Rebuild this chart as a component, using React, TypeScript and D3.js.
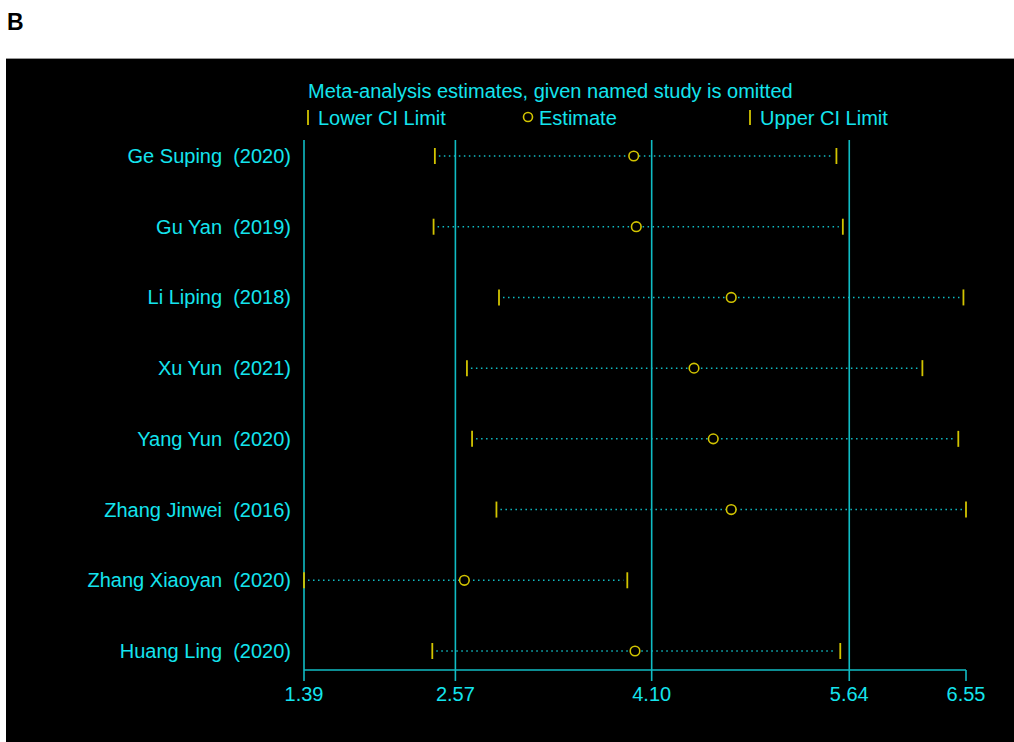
import React from "react";
import * as d3 from "d3";

const studies = [
  "Ge Suping  (2020)",
  "Gu Yan  (2019)",
  "Li Liping  (2018)",
  "Xu Yun  (2021)",
  "Yang Yun  (2020)",
  "Zhang Jinwei  (2016)",
  "Zhang Xiaoyan  (2020)",
  "Huang Ling  (2020)",
];
const lowerCI = [2.41, 2.40, 2.91, 2.66, 2.70, 2.89, 1.39, 2.39];
const estimate = [3.96, 3.98, 4.72, 4.43, 4.58, 4.72, 2.64, 3.97];
const upperCI = [5.54, 5.59, 6.53, 6.21, 6.49, 6.55, 3.91, 5.57];
const tickValues = [1.39, 2.57, 4.1, 5.64, 6.55];
const tickLabels = ["1.39", "2.57", "4.10", "5.64", "6.55"];
const gridValues = [1.39, 2.57, 4.1, 5.64];

const W = 1014;
const H = 742;
const CYAN_TEXT = "#14e4ee";
const CYAN_LINE = "#10bcc4";
const YELLOW = "#d2c400";
const FONT = "'Liberation Sans', Arial, sans-serif";
const FS = 20;

export default function App() {
  const x = d3.scaleLinear().domain([1.39, 6.55]).range([304, 966]);
  const y = d3.scalePoint<string>().domain(studies).range([156, 651]);
  const axisY = 670;
  const gridTop = 140;

  return (
    <svg
      width={W}
      height={H}
      style={{ position: "absolute", left: 0, top: 0, display: "block" }}
      fontFamily={FONT}
    >
      <rect x={0} y={0} width={W} height={H} fill="#ffffff" />
      <text x={7} y={30} fontSize={23} fontWeight="bold" fill="#000">
        B
      </text>
      <rect x={6} y={58} width={W - 6} height={H - 58} fill="#000" />
      <line x1={6} x2={W} y1={58.5} y2={58.5} stroke="#999" strokeWidth={1} />

      {/* title & legend */}
      <text x={308} y={98} fontSize={FS} fill={CYAN_TEXT}>
        Meta-analysis estimates, given named study is omitted
      </text>
      <line x1={308} x2={308} y1={110} y2={125} stroke={YELLOW} strokeWidth={1.8} />
      <text x={318} y={124.5} fontSize={FS} fill={CYAN_TEXT}>
        Lower CI Limit
      </text>
      <circle cx={528} cy={117} r={4.5} fill="none" stroke={YELLOW} strokeWidth={1.6} />
      <text x={539} y={124.5} fontSize={FS} fill={CYAN_TEXT}>
        Estimate
      </text>
      <line x1={750} x2={750} y1={110} y2={125} stroke={YELLOW} strokeWidth={1.8} />
      <text x={760} y={124.5} fontSize={FS} fill={CYAN_TEXT}>
        Upper CI Limit
      </text>

      {/* vertical gridlines */}
      {gridValues.map((v) => (
        <line
          key={"g" + v}
          x1={x(v)}
          x2={x(v)}
          y1={gridTop}
          y2={axisY}
          stroke={CYAN_LINE}
          strokeWidth={1.6}
        />
      ))}

      {/* axis */}
      <line x1={x(1.39)} x2={x(6.55)} y1={axisY} y2={axisY} stroke={CYAN_LINE} strokeWidth={1.6} />
      {tickValues.map((v, i) => (
        <g key={"t" + v}>
          <line x1={x(v)} x2={x(v)} y1={axisY} y2={axisY + 11} stroke={CYAN_LINE} strokeWidth={1.6} />
          <text x={x(v)} y={701} fontSize={FS} fill={CYAN_TEXT} textAnchor="middle">
            {tickLabels[i]}
          </text>
        </g>
      ))}

      {/* rows */}
      {studies.map((s, i) => {
        const yy = y(s) as number;
        return (
          <g key={s}>
            <text
              x={291}
              y={yy + 7}
              fontSize={FS}
              fill={CYAN_TEXT}
              textAnchor="end"
              style={{ whiteSpace: "pre" }}
            >
              {s}
            </text>
            <line
              x1={x(lowerCI[i]) + 4}
              x2={x(upperCI[i]) - 4}
              y1={yy}
              y2={yy}
              stroke={CYAN_LINE}
              strokeWidth={1.5}
              strokeDasharray="1.5,3.5"
            />
            <line
              x1={x(lowerCI[i])}
              x2={x(lowerCI[i])}
              y1={yy - 8}
              y2={yy + 8}
              stroke={YELLOW}
              strokeWidth={1.8}
            />
            <line
              x1={x(upperCI[i])}
              x2={x(upperCI[i])}
              y1={yy - 8}
              y2={yy + 8}
              stroke={YELLOW}
              strokeWidth={1.8}
            />
            <circle
              cx={x(estimate[i])}
              cy={yy}
              r={4.8}
              fill="#000"
              stroke={YELLOW}
              strokeWidth={1.6}
            />
          </g>
        );
      })}
    </svg>
  );
}
